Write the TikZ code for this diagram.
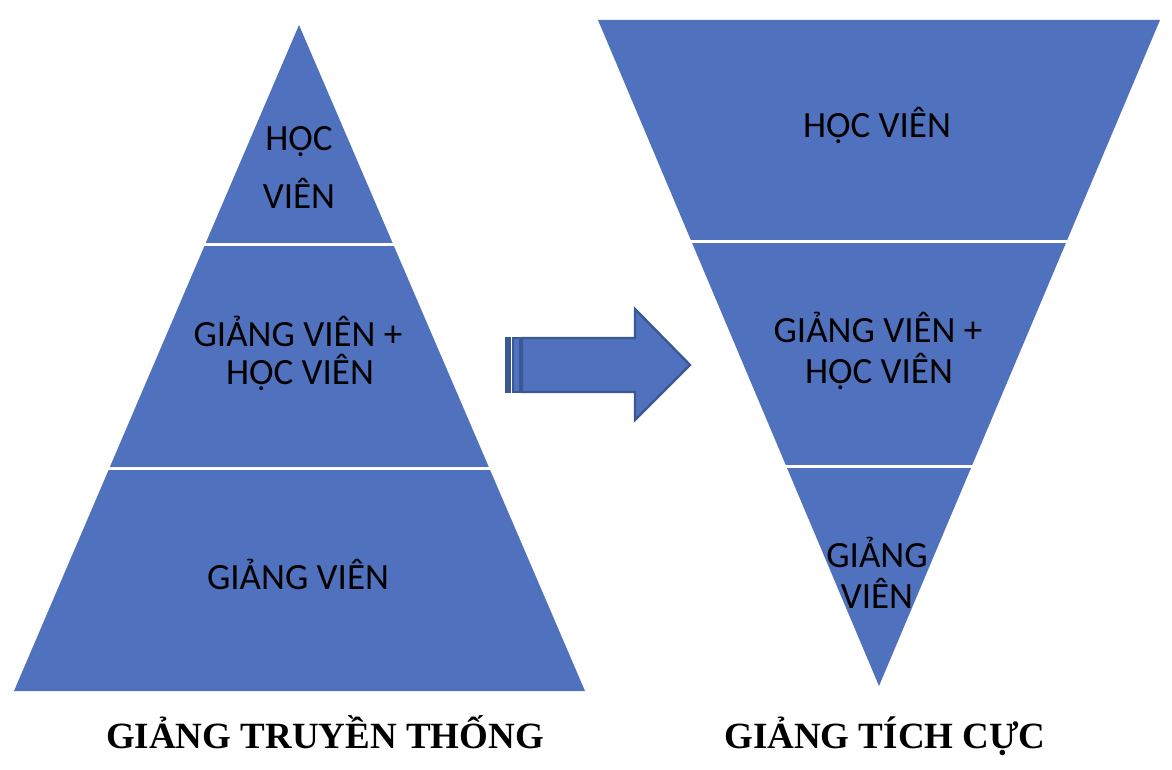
\documentclass[tikz,border=0pt]{standalone}
\usepackage{fontspec}
\usepackage{tikz}
\newfontfamily\calib{Carlito}
\newfontfamily\timesb{Liberation Serif}
\definecolor{pyrblue}{HTML}{4F71BE}
\definecolor{pyredge}{HTML}{3A5894}

\begin{document}
\begin{tikzpicture}[x=0.5pt,y=-0.5pt,
    lbl/.style={font=\calib\fontsize{18.5}{22}\selectfont,anchor=base,inner sep=0pt},
    captext/.style={font=\timesb\bfseries\fontsize{18.5}{22}\selectfont,anchor=base,inner sep=0pt},
    gap/.style={draw=white,line width=1.5pt},
    stripe/.style={fill=pyrblue,draw=pyredge,line width=1.2pt}]
  \useasboundingbox (0,0) rectangle (1172,770);
  % left pyramid
  \fill[pyrblue] (299,25) coordinate (ltop) -- (585,691) coordinate (lright) -- (14,691) coordinate (lleft) -- cycle;
  \draw[gap] (180,245) -- (420,245);
  \draw[gap] (90,468) -- (510,468);
  % right pyramid, upside down
  \fill[pyrblue] (598,20) coordinate (rleft) -- (1160,20) coordinate (rright) -- (879,686) coordinate (rtip) -- cycle;
  \draw[gap] (670,242) -- (1090,242);
  \draw[gap] (760,466) -- (1000,466);
  % striped arrow
  \fill[pyredge] (505,337) rectangle (511,393);
  \draw[stripe] (513,338) rectangle (520,392);
  \draw[stripe,line join=miter] (522,338) -- (635,338) -- (635,309) -- (690,365) coordinate (tip)
    -- (635,420) -- (635,392) -- (522,392) -- cycle;
  % labels, left
  \node[lbl] (l1a) at (299,151) {HỌC};
  \node[lbl] (l1b) at (299,209) {VIÊN};
  \node[lbl] (l2a) at (298,346) {GIẢNG VIÊN +};
  \node[lbl] (l2b) at (300,384) {HỌC VIÊN};
  \node[lbl] (l3) at (298,589) {GIẢNG VIÊN};
  % labels, right
  \node[lbl] (r1) at (877,138) {HỌC VIÊN};
  \node[lbl] (r2a) at (878,343) {GIẢNG VIÊN +};
  \node[lbl] (r2b) at (879,383) {HỌC VIÊN};
  \node[lbl] (r3a) at (877,567) {GIẢNG};
  \node[lbl] (r3b) at (877,608) {VIÊN};
  % captions
  \node[captext] (capl) at (325,748) {GIẢNG TRUYỀN THỐNG};
  \node[captext] (capr) at (885,748) {GIẢNG TÍCH CỰC};
\end{tikzpicture}
\end{document}
